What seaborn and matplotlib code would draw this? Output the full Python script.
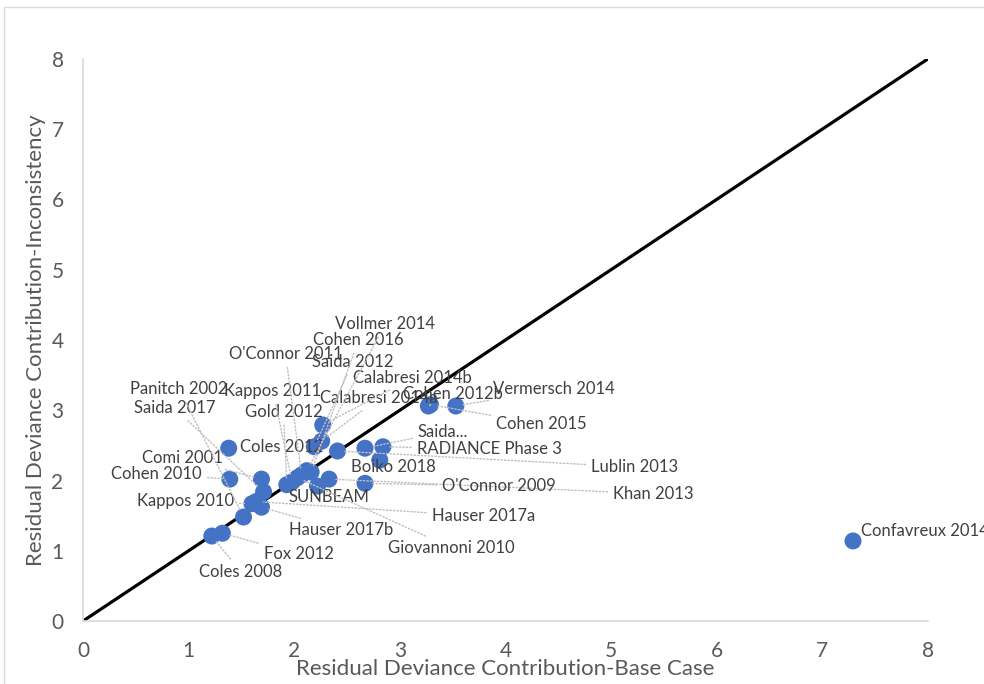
import matplotlib
matplotlib.use("Agg")
import matplotlib.pyplot as plt
import seaborn as sns
import pandas as pd
from matplotlib.patches import Rectangle

# data
studies = [
    "Confavreux 2014", "Vermersch 2014", "Cohen 2012b", "Cohen 2015",
    "RADIANCE Phase 3", "Saida...", "Boiko 2018", "Lublin 2013",
    "Khan 2013", "O'Connor 2009", "SUNBEAM", "Giovannoni 2010",
    "Hauser 2017a", "Hauser 2017b", "Kappos 2010", "Fox 2012",
    "Coles 2008", "Comi 2001", "Cohen 2010", "Coles 2012",
    "Saida 2017", "Panitch 2002", "Gold 2012", "Kappos 2011",
    "O'Connor 2011", "Calabresi 2014a", "Calabresi 2014b", "Saida 2012",
    "Cohen 2016", "Vollmer 2014",
]
base_case = [
    7.29, 3.53, 3.27, 3.29,
    2.84, 2.67, 2.81, 2.41,
    2.33, 2.67, 2.22, 2.03,
    1.64, 1.69, 1.60, 1.32,
    1.22, 1.69, 1.39, 1.38,
    1.71, 1.52, 1.93, 1.98,
    2.07, 2.26, 2.27, 2.19,
    2.16, 2.12,
]
inconsistency = [
    1.14, 3.06, 3.06, 3.08,
    2.48, 2.46, 2.29, 2.42,
    2.02, 1.96, 1.92, 2.04,
    1.70, 1.62, 1.67, 1.25,
    1.21, 2.02, 2.02, 2.46,
    1.84, 1.48, 1.94, 1.98,
    2.08, 2.56, 2.79, 2.48,
    2.12, 2.14,
]

# where each label sits (left edge, vertical centre), in data units
label_x = [
    7.37, 3.88, 3.03, 3.91,
    3.16, 3.17, 2.54, 4.81,
    5.02, 3.40, 1.95, 2.89,
    3.30, 1.95, 0.51, 1.71,
    1.10, 0.56, 0.27, 1.49,
    0.48, 0.45, 1.53, 1.34,
    1.38, 2.24, 2.56, 2.17,
    2.18, 2.39,
]
label_y = [
    1.28, 3.30, 3.23, 2.80,
    2.45, 2.69, 2.19, 2.19,
    1.81, 1.92, 1.77, 1.04,
    1.49, 1.30, 1.71, 0.95,
    0.70, 2.32, 2.09, 2.48,
    3.03, 3.30, 2.98, 3.27,
    3.80, 3.17, 3.46, 3.69,
    4.00, 4.23,
]

df = pd.DataFrame({"study": studies, "base": base_case, "inc": inconsistency})

plt.rcParams["font.family"] = ["Lato", "DejaVu Sans"]

fig = plt.figure(figsize=(9.84, 6.84), dpi=100)
ax = fig.add_axes([0.0843, 0.092, 0.8588, 0.822])

# light chart border like the office export
fig.patches.append(Rectangle((4 / 984, -0.1), 1.2, 1 - 7 / 684 + 0.1,
                             transform=fig.transFigure, fill=False,
                             edgecolor="#D9D9D9", lw=1))

ax.plot([0, 8], [0, 8], color="black", lw=2.3, zorder=2)
sns.scatterplot(data=df, x="base", y="inc", s=150, color="#4472C4",
                edgecolor="none", ax=ax, zorder=3, legend=False)

for i, row in df.iterrows():
    lx, ly = label_x[i], label_y[i]
    near = abs(lx - row["base"]) < 0.2 and abs(ly - row["inc"]) < 0.25
    arrow = None if near else dict(arrowstyle="-", linestyle=(0, (1, 1.5)),
                                   color="#BFBFBF", lw=1, shrinkA=2, shrinkB=5)
    ax.annotate(row["study"], xy=(row["base"], row["inc"]), xytext=(lx, ly),
                ha="left", va="center", fontsize=12, color="#404040",
                arrowprops=arrow, annotation_clip=False, zorder=4)

ax.set_xlim(0, 8)
ax.set_ylim(0, 8)
ax.set_xticks(range(9))
ax.set_yticks(range(9))
ax.tick_params(length=0, labelsize=15, labelcolor="#595959", pad=14)
for side in ["top", "right"]:
    ax.spines[side].set_visible(False)
for side in ["left", "bottom"]:
    ax.spines[side].set_color("#D9D9D9")
    ax.spines[side].set_linewidth(1.2)

ax.set_xlabel("Residual Deviance Contribution-Base Case", fontsize=16,
              color="#595959", labelpad=-1)
ax.set_ylabel("Residual Deviance Contribution-Inconsistency", fontsize=16,
              color="#595959", labelpad=4)

fig.savefig("out.png", dpi=100)
